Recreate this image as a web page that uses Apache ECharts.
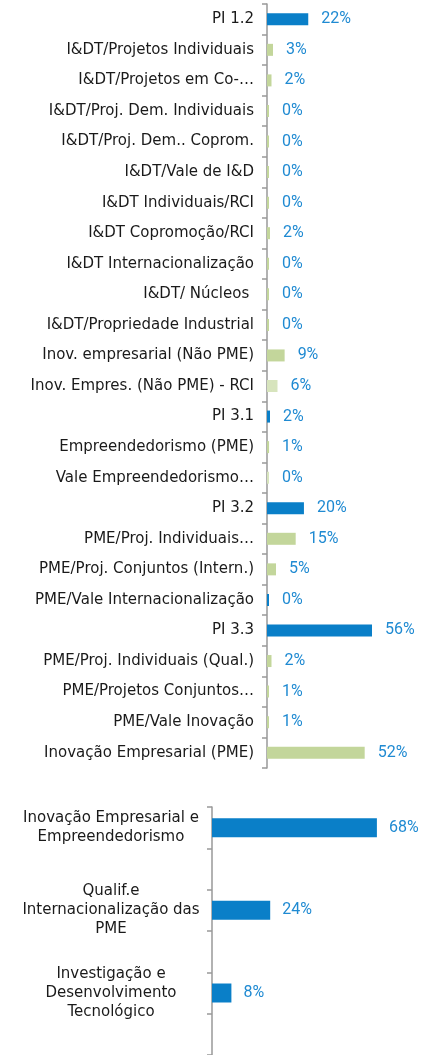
<!DOCTYPE html>
<html>
<head>
<meta charset="utf-8">
<script src="https://cdn.jsdelivr.net/npm/echarts@6/dist/echarts.min.js"></script>
<style>
  html, body { margin: 0; padding: 0; background: #fff; }
  #chart { width: 421px; height: 1055px; }
</style>
</head>
<body>
<div id="chart"></div>
<script>
// categorias do grafico de cima (de cima para baixo)
var topCategories = [
  'PI 1.2',
  'I&DT/Projetos Individuais',
  'I&DT/Projetos em Co-…',
  'I&DT/Proj. Dem. Individuais',
  'I&DT/Proj. Dem.. Coprom.',
  'I&DT/Vale de I&D',
  'I&DT Individuais/RCI',
  'I&DT Copromoção/RCI',
  'I&DT Internacionalização',
  'I&DT/ Núcleos ',
  'I&DT/Propriedade Industrial',
  'Inov. empresarial (Não PME)',
  'Inov. Empres. (Não PME) - RCI',
  'PI 3.1',
  'Empreendedorismo (PME)',
  'Vale Empreendedorismo…',
  'PI 3.2',
  'PME/Proj. Individuais…',
  'PME/Proj. Conjuntos (Intern.)',
  'PME/Vale Internacionalização',
  'PI 3.3',
  'PME/Proj. Individuais (Qual.)',
  'PME/Projetos Conjuntos…',
  'PME/Vale Inovação',
  'Inovação Empresarial (PME)'
];
var topValues = [22, 3.2, 2.4, 0.3, 0.3, 0.3, 0.2, 1.6, 0.1, 0.3, 0.3, 9.4, 5.6,
  1.6, 1.1, 0.2, 19.7, 15.3, 4.8, 0.4, 56, 2.4, 0.6, 0.6, 52.1];
// tipo de cada linha: PI = total da prioridade, sub = tipologia, rci = tipologia RCI
var topKinds = ['PI', 'sub', 'sub', 'sub', 'sub', 'sub', 'sub', 'sub', 'sub', 'sub', 'sub', 'sub', 'rci',
  'PI', 'sub', 'rci', 'PI', 'sub', 'sub', 'PI', 'PI', 'sub', 'sub', 'sub', 'sub'];

// grafico de baixo
var bottomCategories = [
  'Inovação Empresarial e\nEmpreendedorismo',
  'Qualif.e\nInternacionalização das\nPME',
  'Investigação e\nDesenvolvimento\nTecnológico'
];
var bottomValues = [68, 24, 8];

var blue = '#0a7fc8';
var kindColor = { PI: blue, sub: '#c3d69b', rci: '#d7e4bd' };
var labelBlue = '#1f8ad2';
var font = 'DejaVu Sans';
var numFont = '"Liberation Sans Narrow", "Roboto", sans-serif';

// cada categoria de baixo ocupa duas bandas (uma vazia a seguir)
var bottomAxisData = [];
var bottomSeriesData = [];
for (var i = 0; i < bottomCategories.length; i++) {
  bottomAxisData.push(bottomCategories[i]);
  bottomAxisData.push('_' + i);
  bottomSeriesData.push(bottomValues[i]);
  bottomSeriesData.push('-');
}

var topSeriesData = [];
for (var j = 0; j < topValues.length; j++) {
  topSeriesData.push({ value: topValues[j], itemStyle: { color: kindColor[topKinds[j]] } });
}

var axisLineStyle = { color: '#999', width: 1.5 };

var myChart = echarts.init(document.getElementById('chart'));
var option = {
  animation: false,
  grid: [
    { left: 267, top: 4, width: 150, height: 764 },
    { left: 212, top: 807, width: 194, height: 294 }
  ],
  xAxis: [
    { gridIndex: 0, type: 'value', min: 0, max: 80, show: false },
    { gridIndex: 1, type: 'value', min: 0, max: 80, show: false }
  ],
  yAxis: [
    {
      gridIndex: 0, type: 'category', inverse: true, data: topCategories,
      axisLine: { show: true, lineStyle: axisLineStyle },
      axisTick: { show: true, length: 5, lineStyle: axisLineStyle },
      axisLabel: { margin: 13, color: '#1a1a1a', fontFamily: font, fontSize: 15, interval: 0 }
    },
    {
      gridIndex: 1, type: 'category', inverse: true, data: bottomAxisData,
      axisLine: { show: true, lineStyle: axisLineStyle },
      axisTick: { show: true, length: 5, interval: 0, lineStyle: axisLineStyle },
      axisLabel: {
        margin: 12, interval: 0,
        formatter: function (v) {
          if (v.charAt(0) === '_') return '';
          return '{c|' + v + '}';
        },
        rich: {
          c: { width: 178, align: 'center', lineHeight: 19, color: '#1a1a1a', fontFamily: font, fontSize: 15 }
        }
      }
    }
  ],
  series: [
    {
      type: 'bar', xAxisIndex: 0, yAxisIndex: 0, barWidth: 12, barMinHeight: 2,
      data: topSeriesData,
      label: {
        show: true, position: 'right', distance: 13, color: labelBlue,
        fontFamily: numFont, fontSize: 16,
        formatter: function (p) { return Math.round(p.value) + '%'; }
      }
    },
    {
      type: 'bar', xAxisIndex: 1, yAxisIndex: 1, barWidth: 19,
      data: bottomSeriesData,
      itemStyle: { color: blue },
      label: {
        show: true, position: 'right', distance: 12, color: labelBlue,
        fontFamily: numFont, fontSize: 16,
        formatter: function (p) { return p.value + '%'; }
      }
    }
  ]
};
myChart.setOption(option);
</script>
</body>
</html>
